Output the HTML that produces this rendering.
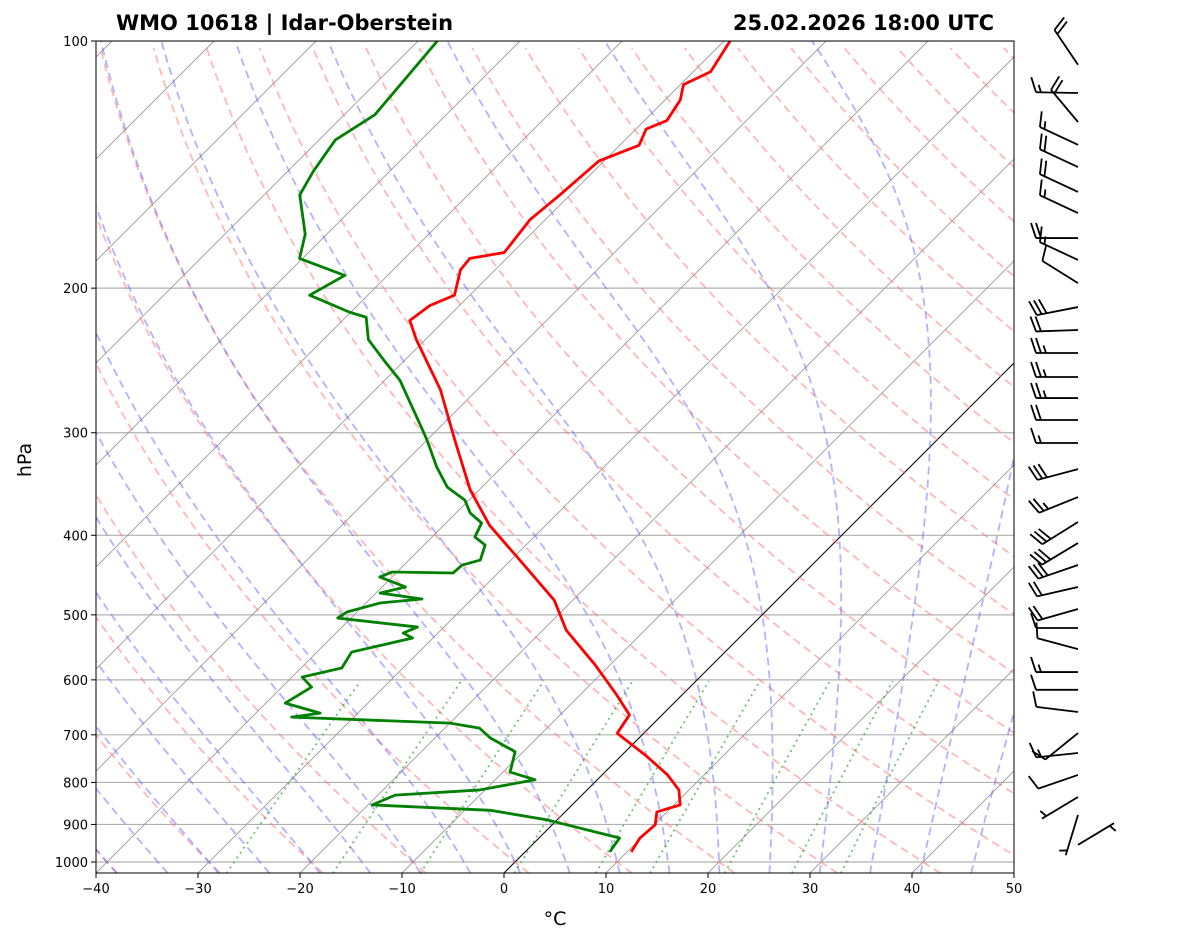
<!DOCTYPE html>
<html><head><meta charset="utf-8">
<style>
html,body{margin:0;padding:0;background:#fff;}
svg{display:block;font-family:"DejaVu Sans","Liberation Sans",sans-serif;}
</style></head>
<body>
<svg id="chart" width="1181" height="941" viewBox="0 0 1181 941" xmlns="http://www.w3.org/2000/svg">
<defs><clipPath id="plotclip"><rect x="96" y="41" width="918" height="832"/></clipPath></defs>
<rect x="0" y="0" width="1181" height="941" fill="#fff"/>
<text x="116" y="30" font-size="21" font-weight="bold">WMO 10618 | Idar-Oberstein</text>
<text x="994" y="30" font-size="21" font-weight="bold" text-anchor="end">25.02.2026 18:00 UTC</text>
<g id="bg" clip-path="url(#plotclip)"></g>
<g id="profiles" clip-path="url(#plotclip)"></g>
<rect x="96" y="41" width="918" height="832" fill="none" stroke="#000" stroke-width="1"/>
<g id="axes"></g>
<g id="barbs"></g>
<text x="555" y="925" font-size="19" text-anchor="middle">°C</text>
<text x="31" y="460" font-size="19" text-anchor="middle" transform="rotate(-90 31 460)">hPa</text>
</svg>
<script>
const tempP=[972,935,901,869,852,817,783,741,697,662,626,575,522,480,429,389,352,306,266,231,219,210,204,190,184,181,165,154,140,134,128,125,118,113,109,100];
const tempT=[10.4,9.9,10.1,9.0,10.6,9.0,6.4,2.3,-2.6,-3.2,-6.4,-11.5,-17.7,-21.8,-29.1,-35.5,-40.9,-47.3,-53.6,-60.9,-63.4,-62.9,-61.5,-63.4,-63.6,-60.8,-61.5,-61.0,-60.5,-58.1,-59.0,-57.8,-58.5,-59.7,-58.3,-59.4];
const dewP=[972,935,889,887,865,852,829,817,794,777,734,706,687,677.4,666.1,658.7,640.4,612.2,595.3,580.4,555,533.6,526.2,517.4,504.5,496,483.6,478.3,470.3,462.4,449.6,443.4,444.6,434.8,428.8,411.1,401.9,386.5,375.8,362.4,349.4,330.3,306.2,297.8,259,245,231,217,214,204,193,184,172,154,144,132,123,112,100];
const dewT=[8.3,7.9,-0.9,-1.4,-7.5,-19.6,-18.3,-10.5,-6.1,-9.3,-10.8,-14.6,-16.6,-20.0,-36.1,-33.7,-38.1,-37.1,-39.0,-36.0,-36.6,-32.0,-33.4,-32.6,-41.3,-41.0,-38.6,-34.9,-39.6,-37.7,-41.2,-40.5,-34.4,-34.3,-33.0,-34.0,-35.8,-36.5,-38.6,-40.4,-43.4,-46.4,-50.0,-51.4,-58.5,-62.0,-65.6,-68.0,-70.1,-75.7,-74.2,-80.3,-82.1,-86.5,-87.5,-88.4,-87.0,-87.5,-88.1];
const barbP=[106.9,115.7,125.5,133.8,142.4,152.7,162,173.8,184.8,197.2,210.9,224.9,239.9,256.6,272.2,289.5,308.8,332.2,359.3,385.4,408.8,434.8,462.4,491.8,518.8,550.4,587,617,656.6,696.6,736.6,783.4,833.4,876.6,953];
const barbDir=[326,271,320,295,295,295,295,270,295,302,259,268,270,270,270,270,270,255,248,238,239,251,257,254,270,285,270,270,277,231,264,251,239,197,59];
const barbSpd=[20,15,20,15,20,20,15,20,15,10,30,20,25,25,25,20,15,30,25,30,30,30,20,20,10,10,15,10,10,10,15,10,5,5,5];
const xTicks=[-40,-30,-20,-10,0,10,20,30,40,50];
const pTicks=[100,200,300,400,500,600,700,800,900,1000];
const mixRatios=[0.0004,0.001,0.002,0.004,0.007,0.01,0.016,0.024,0.032];

const NS="http://www.w3.org/2000/svg";
const X0=96,X1=1014,Y0=41,YB=873,PXC=10.2,DEC=821;
function yP(p){return Y0+DEC*Math.log10(p/100);}
function xTP(T,p){return X0+(T+40)*PXC+(YB-yP(p));}
function mk(tag,attrs,parent){const e=document.createElementNS(NS,tag);for(const k in attrs)e.setAttribute(k,attrs[k]);parent.appendChild(e);return e;}
function pathFrom(pts){return pts.map((q,i)=>(i?'L':'M')+q[0].toFixed(2)+','+q[1].toFixed(2)).join('');}
const bg=document.getElementById('bg'),prof=document.getElementById('profiles'),ax=document.getElementById('axes'),bb=document.getElementById('barbs');
const PB=1032;
pTicks.forEach(p=>{const l=mk('line',{x1:X0,x2:X1,y1:yP(p),y2:yP(p),stroke:'#b0b0b0','stroke-width':1.2},bg);

});
for(let T=-130;T<=50;T+=10){const l=mk('line',{x1:xTP(T,PB),y1:yP(PB),x2:xTP(T,100),y2:yP(100),stroke:T===0?'#000':'#999','stroke-width':T===0?1:0.9},bg);

}
for(let t0=-50;t0<=200;t0+=10){const pts=[];for(let p=PB;p>=99;p-=5){pts.push([xTP((t0+273.15)*Math.pow(p/1000,0.2857)-273.15,p),yP(p)]);}
const e=mk('path',{d:pathFrom(pts),fill:'none',stroke:'#ff7070','stroke-opacity':0.5,'stroke-width':1.8,'stroke-dasharray':'8,5'},bg);

}
function es(T){return 6.112*Math.exp(17.67*T/(T+243.5));}
function dTdp(Tk,p){const Rd=287.04,Cp=1005.7,Lv=2.501e6,eps=0.622;const e=es(Tk-273.15);const rs=eps*e/(p-e);
return (Rd*Tk+Lv*rs)/(p*(Cp+Lv*Lv*rs*eps/(Rd*Tk*Tk)));}
const moistT0=[-50,-45,-40,-35,-30,-25,-20,-15,-10,-5,0,5,10,15,20,25,30,35,40,45];
moistT0.forEach(t0=>{let Tk=t0+273.15,p=1000;const up=[[xTP(t0,p),yP(p)]];
while(p>100){const dp=-2;Tk+=dTdp(Tk,p)*dp;p+=dp;up.push([xTP(Tk-273.15,p),yP(p)]);}
Tk=t0+273.15;p=1000;const dn=[];while(p<PB){Tk+=dTdp(Tk,p)*2;p+=2;dn.push([xTP(Tk-273.15,p),yP(p)]);}
const pts=dn.reverse().concat(up);
const e=mk('path',{d:pathFrom(pts),fill:'none',stroke:'#5555ff','stroke-opacity':0.45,'stroke-width':1.8,'stroke-dasharray':'8,5'},bg);

});
mixRatios.forEach(w=>{const pts=[];for(let p=PB;p>=600;p-=5){const e=p*w/(0.622+w);const a=Math.log(e/6.112);pts.push([xTP(243.5*a/(17.67-a),p),yP(p)]);}
const e=mk('path',{d:pathFrom(pts),fill:'none',stroke:'#33aa33','stroke-opacity':0.7,'stroke-width':1.8,'stroke-dasharray':'2,4'},bg);

});
const tp=mk('path',{d:pathFrom(tempP.map((p,i)=>[xTP(tempT[i],p),yP(p)])),fill:'none',stroke:'#ff0000','stroke-width':2.8,'stroke-linejoin':'round'},prof);


const dp=mk('path',{d:pathFrom(dewP.map((p,i)=>[xTP(dewT[i],p),yP(p)])),fill:'none',stroke:'#008000','stroke-width':2.8,'stroke-linejoin':'round'},prof);


xTicks.forEach(T=>{const x=X0+(T+40)*PXC;mk('line',{x1:x,x2:x,y1:YB,y2:YB+5,stroke:'#000'},ax);
const t=mk('text',{x:x,y:YB+20,'font-size':13,'text-anchor':'middle'},ax);t.textContent=(T<0?'\u2212'+(-T):T);

});
pTicks.forEach(p=>{const y=yP(p);mk('line',{x1:X0-5,x2:X0,y1:y,y2:y,stroke:'#000'},ax);
const t=mk('text',{x:X0-8,y:y+5,'font-size':13,'text-anchor':'end'},ax);t.textContent=p;

});
const SX=1078,SL=42;
barbP.forEach((p,i)=>{const y=yP(p);const d=barbDir[i]*Math.PI/180;const ux=Math.sin(d),uy=-Math.cos(d);
const g=mk('g',{stroke:'#000','stroke-width':1.8,fill:'none'},bb);


const ex=SX+ux*SL,ey=y+uy*SL;mk('line',{x1:SX,y1:y,x2:ex,y2:ey},g);
const px=-uy,py=ux;let s=barbSpd[i];let k=0;const full=Math.floor(s/10),half=(s%10)>=5?1:0;
for(let j=0;j<full;j++){const bx=ex-ux*k*5,by=ey-uy*k*5;mk('line',{x1:bx,y1:by,x2:bx+px*15+ux*5,y2:by+py*15+uy*5},g);k++;}
if(half){if(full===0)k=1;const bx=ex-ux*k*5,by=ey-uy*k*5;mk('line',{x1:bx,y1:by,x2:bx+px*7.5+ux*2.5,y2:by+py*7.5+uy*2.5},g);}
});
</script>
</body></html>
